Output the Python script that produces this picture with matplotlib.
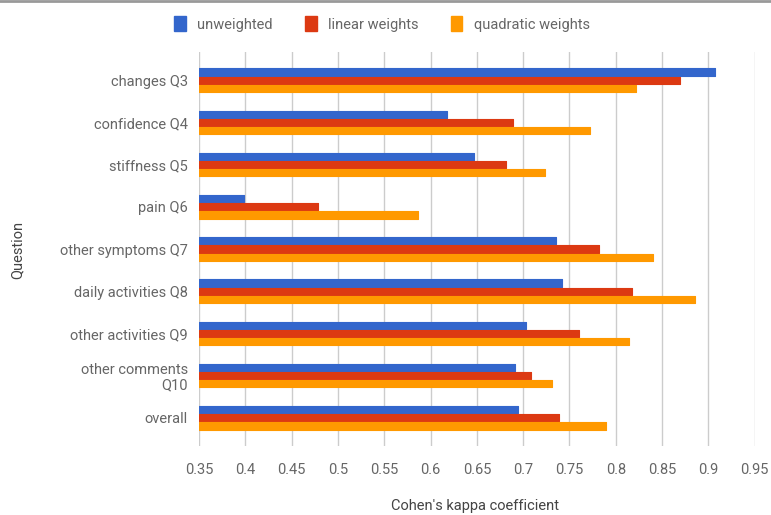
import matplotlib
matplotlib.use("Agg")
import matplotlib.pyplot as plt
import numpy as np
from matplotlib.patches import Rectangle

plt.rcParams['font.family'] = ['Roboto', 'DejaVu Sans']

categories = ["changes Q3", "confidence Q4", "stiffness Q5", "pain Q6",
              "other symptoms Q7", "daily activities Q8", "other activities Q9",
              "other comments\nQ10", "overall"]
unweighted = [0.907, 0.618, 0.647, 0.399, 0.735, 0.742, 0.703, 0.691, 0.694]
linear = [0.869, 0.689, 0.681, 0.478, 0.782, 0.817, 0.760, 0.709, 0.739]
quadratic = [0.822, 0.772, 0.724, 0.586, 0.840, 0.886, 0.814, 0.731, 0.789]
series_names = ["unweighted", "linear weights", "quadratic weights"]
colors = ["#3366CC", "#DC3912", "#FF9900"]
xticks = [0.35, 0.4, 0.45, 0.5, 0.55, 0.6, 0.65, 0.7, 0.75, 0.8, 0.85, 0.9, 0.95]
xtick_labels = ["0.35", "0.4", "0.45", "0.5", "0.55", "0.6", "0.65", "0.7",
                "0.75", "0.8", "0.85", "0.9", "0.95"]

W, H = 771, 515
fig = plt.figure(figsize=(W / 100, H / 100), dpi=100)
ax = fig.add_axes([199 / W, (H - 446) / H, (754.7 - 199) / W, (446 - 52) / H])

y = np.arange(len(categories))
h = 0.17
off = 0.193
base = 0.35
for i, (vals, c) in enumerate(zip([unweighted, linear, quadratic], colors)):
    ax.barh(y + (i - 1) * off, np.array(vals) - base, left=base, height=h,
            color=c, edgecolor=c, linewidth=0.8, joinstyle='round', zorder=3)

ax.set_xlim(0.35, 0.95)
ax.set_ylim(len(categories) - 1 + 0.668, -0.668)
ax.set_xticks(xticks)
ax.set_xticklabels(xtick_labels)
ax.set_yticks(y)
ax.set_yticklabels(categories, ha='right', linespacing=1.1)
ax.grid(axis='x', color='#cccccc', linewidth=1, zorder=0)
for s in ax.spines.values():
    s.set_visible(False)
ax.tick_params(axis='both', length=0, colors='#666666', labelsize=10.5)
ax.tick_params(axis='x', pad=12)
ax.tick_params(axis='y', pad=8)

fig.text(475 / W, 1 - 506 / H, "Cohen's kappa coefficient", ha='center', va='center',
         fontsize=10.5, color='#444444')
fig.text(18 / W, 1 - 250 / H, "Question", ha='center', va='center', rotation=90,
         fontsize=10.5, color='#444444')

handles = [Rectangle((0, 0), 1, 1, facecolor=c, edgecolor=c) for c in colors]
fig.legend(handles, series_names, loc='center', bbox_to_anchor=(382 / W, 1 - 24 / H),
           ncol=3, frameon=False, fontsize=10.5, labelcolor='#666666',
           handlelength=0.8, handleheight=1.2, handletextpad=0.8, columnspacing=2.2)

fig.add_artist(plt.Line2D([0, 1], [0.999, 0.999], color='#999999', linewidth=2,
                          transform=fig.transFigure))

fig.savefig("out.png", dpi=100)
